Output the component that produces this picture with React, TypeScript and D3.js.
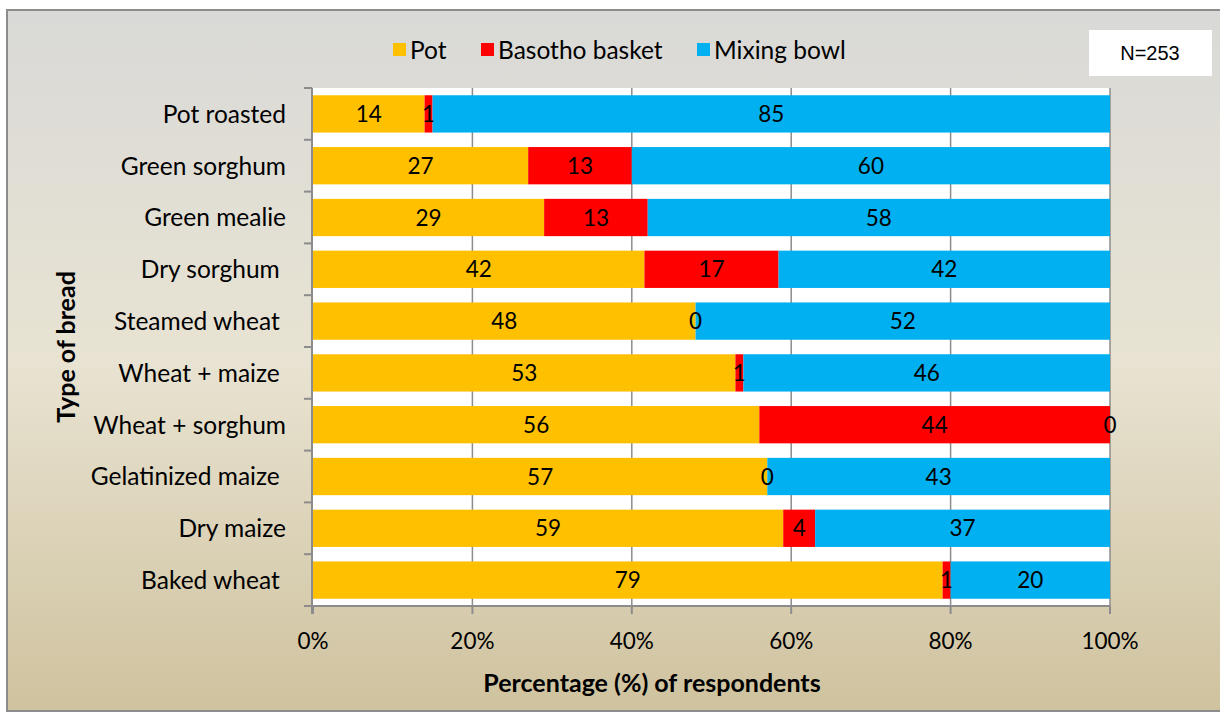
import React from "react";
import * as d3 from "d3";

const categories = [
  "Pot roasted",
  "Green sorghum",
  "Green mealie",
  "Dry sorghum ",
  "Steamed wheat ",
  "Wheat + maize ",
  "Wheat + sorghum",
  "Gelatinized maize ",
  "Dry maize",
  "Baked wheat ",
];
const seriesNames = ["Pot", "Basotho basket", "Mixing bowl"];
const seriesColors = ["#FFC000", "#FF0000", "#00B0F0"];
const potValues = [14, 27, 29, 42, 48, 53, 56, 57, 59, 79];
const basketValues = [1, 13, 13, 17, 0, 1, 44, 0, 4, 1];
const bowlValues = [85, 60, 58, 42, 52, 46, 0, 43, 37, 20];
const xTicks = [0, 0.2, 0.4, 0.6, 0.8, 1];

const W = 1220;
const H = 713;
const plot = { left: 313, right: 1110, top: 88, bottom: 606 };
const FONT = "Lato, 'Open Sans', sans-serif";

export default function App() {
  const x = d3.scaleLinear().domain([0, 1]).range([plot.left, plot.right]);
  const y = d3
    .scaleBand<string>()
    .domain(categories)
    .range([plot.top, plot.bottom])
    .paddingInner(0.28)
    .paddingOuter(0.14);

  const rows = categories.map((c, i) => {
    const vals = [potValues[i], basketValues[i], bowlValues[i]];
    const total = d3.sum(vals);
    let acc = 0;
    const segs = vals.map((v, k) => {
      const x0 = acc / total;
      acc += v;
      return { key: k, v, x0, x1: acc / total };
    });
    return { c, segs };
  });

  const legendItems = [
    { x: 393, label: seriesNames[0], color: seriesColors[0] },
    { x: 481, label: seriesNames[1], color: seriesColors[1] },
    { x: 697, label: seriesNames[2], color: seriesColors[2] },
  ];

  return (
    <svg
      width={W}
      height={H}
      style={{ position: "absolute", left: 0, top: 0, fontFamily: FONT }}
    >
      <defs>
        <linearGradient id="bg" x1="0" y1="0" x2="0" y2="1">
          <stop offset="0%" stopColor="#d9d9d7" />
          <stop offset="50%" stopColor="#e8e3d2" />
          <stop offset="100%" stopColor="#cfc29e" />
        </linearGradient>
      </defs>
      <rect x={0} y={0} width={W} height={H} fill="#ffffff" />
      <rect
        x={7}
        y={10}
        width={W + 10}
        height={701}
        fill="url(#bg)"
        stroke="#8c8c8c"
        strokeWidth={2}
      />

      {/* legend */}
      {legendItems.map((d) => (
        <g key={d.label}>
          <rect x={d.x} y={43} width={13} height={13} fill={d.color} />
          <text x={d.x + 17} y={50} dy="0.36em" fontSize={24.5} fill="#000">
            {d.label}
          </text>
        </g>
      ))}

      {/* sample size box */}
      <rect x={1089} y={30} width={123} height={46} fill="#ffffff" />
      <text
        x={1150}
        y={53}
        dy="0.36em"
        textAnchor="middle"
        fontSize={20}
        fontFamily="'Liberation Sans', Arial, sans-serif"
      >
        N=253
      </text>

      {/* plot area */}
      <rect
        x={plot.left}
        y={plot.top}
        width={plot.right - plot.left}
        height={plot.bottom - plot.top}
        fill="#ffffff"
      />
      {xTicks.slice(1).map((t) => (
        <line
          key={t}
          x1={x(t)}
          x2={x(t)}
          y1={plot.top}
          y2={plot.bottom}
          stroke="#8c8c8c"
          strokeWidth={1.5}
        />
      ))}

      {/* bars */}
      {rows.map((r) =>
        r.segs.map((s) => (
          <rect
            key={r.c + s.key}
            x={x(s.x0)}
            y={y(r.c)}
            width={Math.max(0, x(s.x1) - x(s.x0))}
            height={y.bandwidth()}
            fill={seriesColors[s.key]}
          />
        ))
      )}

      {/* value labels */}
      {rows.map((r) =>
        r.segs.map((s) => (
          <text
            key={"l" + r.c + s.key}
            x={x((s.x0 + s.x1) / 2)}
            y={(y(r.c) as number) + y.bandwidth() / 2}
            dy="0.36em"
            textAnchor="middle"
            fontSize={22.5}
            fill="#000"
          >
            {s.v}
          </text>
        ))
      )}

      {/* axes */}
      <line
        x1={plot.left - 1}
        x2={plot.left - 1}
        y1={plot.top}
        y2={plot.bottom + 8}
        stroke="#8c8c8c"
        strokeWidth={2}
      />
      <line
        x1={plot.left - 9}
        x2={plot.right}
        y1={plot.bottom}
        y2={plot.bottom}
        stroke="#8c8c8c"
        strokeWidth={2}
      />
      {d3.range(categories.length + 1).map((i) => {
        const yy = plot.top + ((plot.bottom - plot.top) * i) / categories.length;
        return (
          <line
            key={"yt" + i}
            x1={plot.left - 9}
            x2={plot.left - 1}
            y1={yy}
            y2={yy}
            stroke="#8c8c8c"
            strokeWidth={2}
          />
        );
      })}
      {xTicks.map((t) => (
        <g key={"xt" + t}>
          <line
            x1={x(t)}
            x2={x(t)}
            y1={plot.bottom}
            y2={plot.bottom + 8}
            stroke="#8c8c8c"
            strokeWidth={2}
          />
          <text
            x={x(t)}
            y={641}
            dy="0.36em"
            textAnchor="middle"
            fontSize={22.5}
          >
            {d3.format(".0%")(t)}
          </text>
        </g>
      ))}
      {categories.map((c) => (
        <text
          key={"c" + c}
          x={286}
          y={(y(c) as number) + y.bandwidth() / 2}
          dy="0.36em"
          textAnchor="end"
          fontSize={24.5}
          style={{ whiteSpace: "pre" }}
        >
          {c}
        </text>
      ))}

      {/* axis titles */}
      <text
        x={652}
        y={683}
        dy="0.36em"
        textAnchor="middle"
        fontSize={25}
        fontWeight="bold"
      >
        Percentage (%) of respondents
      </text>
      <text
        transform="translate(66,347) rotate(-90)"
        dy="0.36em"
        textAnchor="middle"
        fontSize={25}
        fontWeight="bold"
      >
        Type of bread
      </text>
    </svg>
  );
}
